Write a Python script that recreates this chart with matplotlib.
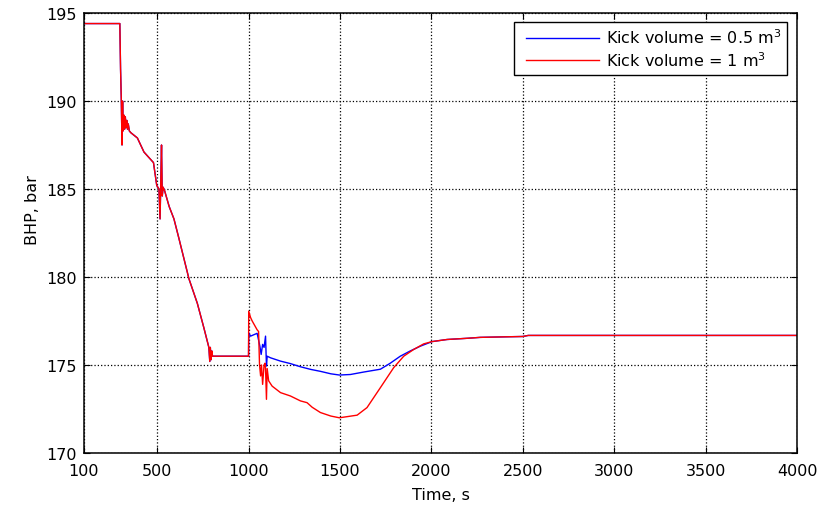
import matplotlib
matplotlib.use("Agg")
import matplotlib.pyplot as plt
from matplotlib.legend_handler import HandlerLine2D
from matplotlib.lines import Line2D

# ── BHP traces ────────────────────────────────────────────────────────────────

# common part of both runs (before the kick is circulated)
t_common = [100, 296, 300, 304, 308, 311, 314, 318, 322, 326, 330, 334, 338,
            342, 348, 356, 392, 428, 480, 498, 510, 516, 520, 524, 528, 533,
            541, 566, 592, 619, 674, 720, 756, 783, 788, 791, 795, 799, 803, 1000]
bhp_common = [194.4, 194.4, 191.8, 190.1, 187.5, 190.0, 188.3, 189.2, 188.4,
              189.1, 188.5, 188.9, 188.4, 188.7, 188.3, 188.2, 187.9, 187.1,
              186.5, 185.2, 185.0, 183.3, 185.4, 187.5, 184.6, 185.1, 184.9,
              184.0, 183.3, 182.2, 179.9, 178.5, 177.1, 176.0, 175.2, 176.0,
              175.3, 175.8, 175.5, 175.5]

# kick volume 0.5 m3
t_small = [1001, 1011, 1047, 1062, 1069, 1077, 1085, 1093, 1098, 1102, 1120,
           1175, 1229, 1284, 1340, 1393, 1450, 1497, 1557, 1630, 1721, 1775,
           1830, 1885, 1940, 2004, 2086, 2200, 2267, 2400, 2500, 2530, 4000]
bhp_small = [176.83, 176.64, 176.8, 176.07, 175.6, 176.17, 176.0, 176.64,
             174.94, 175.5, 175.41, 175.22, 175.08, 174.9, 174.75, 174.64,
             174.5, 174.43, 174.46, 174.6, 174.76, 175.1, 175.5, 175.8, 176.07,
             176.33, 176.45, 176.52, 176.57, 176.6, 176.62, 176.68, 176.68]

# kick volume 1 m3
t_large = [1001, 1011, 1020, 1047, 1055, 1060, 1066, 1071, 1077, 1085, 1090,
           1093, 1098, 1102, 1110, 1129, 1175, 1229, 1284, 1320, 1348, 1393,
           1450, 1497, 1594, 1648, 1721, 1794, 1849, 1903, 1958, 2004, 2086,
           2200, 2267, 2400, 2500, 2530, 4000]
bhp_large = [178.06, 177.7, 177.5, 177.0, 176.9, 175.03, 174.38, 175.0, 173.9,
             175.0, 175.1, 174.8, 173.05, 174.8, 174.1, 173.8, 173.43, 173.24,
             172.96, 172.86, 172.6, 172.3, 172.1, 172.0, 172.15, 172.58, 173.71,
             174.85, 175.5, 175.88, 176.2, 176.33, 176.45, 176.52, 176.57,
             176.6, 176.62, 176.68, 176.68]

x_ticks = [100, 500, 1000, 1500, 2000, 2500, 3000, 3500, 4000]
y_ticks = [170, 175, 180, 185, 190, 195]

labels = ["Kick volume = 0.5 m$^{3}$", "Kick volume = 1 m$^{3}$"]

# ──────────────────────────────────────────────────────────────────────────────

plt.rcParams["font.family"] = ["DejaVu Sans"]
plt.rcParams["font.size"] = 11.5
plt.rcParams["mathtext.default"] = "regular"
plt.rcParams["path.simplify"] = False   # keep the shared segment identical

fig = plt.figure(figsize=(8.26, 5.06), dpi=100)
ax = fig.add_axes([84 / 826, 52 / 506, 713 / 826, 440 / 506])

ax.plot(t_common + t_small, bhp_common + bhp_small, color="#0000ff", lw=1.0,
        label=labels[0])
ax.plot(t_common + t_large, bhp_common + bhp_large, color="#ff0000", lw=1.0,
        label=labels[1])

ax.set_xlim(100, 4000)
ax.set_ylim(170, 195)
ax.set_xticks(x_ticks)
ax.set_yticks(y_ticks)
ax.grid(True, color="k", linestyle=":", linewidth=0.9)
ax.tick_params(direction="in", top=True, right=True, length=4, width=0.8,
               pad=5)
ax.tick_params(axis="x", pad=7.5)
for spine in ax.spines.values():
    spine.set_linewidth(1.1)

ax.set_xlabel("Time, s")
ax.set_ylabel("BHP, bar")
ax.xaxis.set_label_coords(0.5, -0.078)
ax.yaxis.set_label_coords(-0.062, 0.555)

leg = ax.legend(loc="upper right", bbox_to_anchor=(1 - 10 / 713, 1 - 9 / 440),
                borderaxespad=0, fancybox=False, framealpha=1,
                edgecolor="k", handlelength=4.95, handletextpad=0.45,
                borderpad=0.35, labelspacing=0.25,
                handler_map={Line2D: HandlerLine2D(xpad=0.4)})
leg.get_frame().set_linewidth(1.0)

fig.savefig("out.png", dpi=100)
